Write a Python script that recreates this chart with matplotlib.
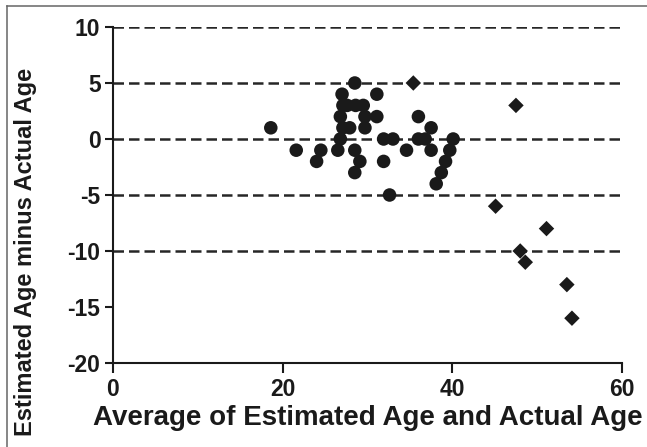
import matplotlib
matplotlib.use("Agg")
import matplotlib.pyplot as plt
from matplotlib.lines import Line2D
from matplotlib.font_manager import FontProperties

# ---- data ----
circle_x = [18.6, 21.6, 24.0, 24.5, 26.5, 26.8, 27.1, 26.8, 27.1, 27.0,
            28.5, 27.6, 28.6, 29.5, 29.7, 29.7, 27.9, 31.1, 31.1, 28.5,
            29.1, 28.5, 31.9, 33.0, 31.9, 32.6, 34.6, 36.0, 36.0, 36.8,
            37.5, 37.5, 40.1, 39.7, 39.2, 38.7, 38.1]
circle_y = [1, -1, -2, -1, -1, 0, 1, 2, 3, 4,
            5, 3, 3, 3, 2, 1, 1, 4, 2, -1,
            -2, -3, 0, 0, -2, -5, -1, 2, 0, 0,
            1, -1, 0, -1, -2, -3, -4]
diamond_x = [35.4, 47.5, 45.1, 51.1, 48.0, 48.6, 53.5, 54.1]
diamond_y = [5, 3, -6, -8, -10, -11, -13, -16]
ref_lines = [10, 5, 0, -5, -10]
x_ticks = [0, 20, 40, 60]
y_ticks = [10, 5, 0, -5, -10, -15, -20]
x_tick_labels = ["0", "20", "40", "60"]
y_tick_labels = ["10", "5", "0", "-5", "-10", "-15", "-20"]
x_label = "Average of Estimated Age and Actual Age"
y_label = "Estimated Age minus Actual Age"

plt.rcParams['font.family'] = ['Liberation Sans', 'DejaVu Sans']
plt.rcParams['axes.unicode_minus'] = False

tick_fp = FontProperties(family='Liberation Sans', weight='bold', size=16.5)
xlab_fp = FontProperties(family='Liberation Sans', weight='bold', size=20)
ylab_fp = FontProperties(family='Liberation Sans', weight='bold', size=17)

W, H = 647, 447
fig = plt.figure(figsize=(W / 100, H / 100), dpi=100)
fig.patch.set_facecolor('white')
ax = fig.add_axes([113 / W, 1 - 363 / H, (622 - 113) / W, (363 - 27) / H])

ink = '#1a1a1a'
for yv in ref_lines:
    ax.axhline(yv, color='#262626', lw=1.8, ls=(0, (4.2, 2.0)), zorder=1)

ax.scatter(circle_x, circle_y, s=95, marker='o', color=ink, edgecolors='none', zorder=3)
ax.scatter(diamond_x, diamond_y, s=62, marker='D', color=ink, edgecolors='none', zorder=3)

ax.set_xlim(0, 60)
ax.set_ylim(-20, 10)
ax.set_xticks(x_ticks, labels=x_tick_labels, fontproperties=tick_fp, color=ink)
ax.set_yticks(y_ticks, labels=y_tick_labels, fontproperties=tick_fp, color=ink)
ax.tick_params(axis='both', direction='out', width=1.5, color=ink)
ax.tick_params(axis='x', length=7, pad=4)
ax.tick_params(axis='y', length=6, pad=3)

for side in ['top', 'right']:
    ax.spines[side].set_visible(False)
for side in ['left', 'bottom']:
    ax.spines[side].set_linewidth(1.5)
    ax.spines[side].set_color(ink)

ax.set_xlabel(x_label, fontproperties=xlab_fp, color=ink, labelpad=3)
fig.text(26 / W, 1 - 252 / H, y_label, rotation=90, ha='center', va='center',
         fontproperties=ylab_fp, color=ink)

# outer frame (left and top edges only)
fig.add_artist(Line2D([7 / W, 7 / W], [0, 1 - 6 / H], transform=fig.transFigure,
                      color='#666666', lw=1.1))
fig.add_artist(Line2D([7 / W, 1], [1 - 6 / H, 1 - 6 / H], transform=fig.transFigure,
                      color='#666666', lw=1.1))

fig.savefig('out.png', dpi=100)
